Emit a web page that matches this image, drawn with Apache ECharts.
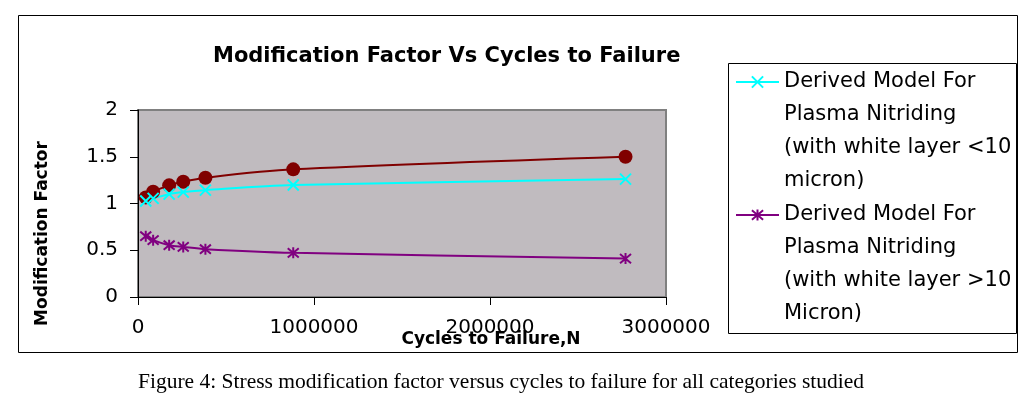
<!DOCTYPE html>
<html>
<head>
<meta charset="utf-8">
<script src="https://cdn.jsdelivr.net/npm/echarts@6/dist/echarts.min.js"></script>
<style>
html,body{margin:0;padding:0;background:#fff;}
#main{width:1033px;height:393px;}
</style>
</head>
<body>
<div id="main"></div>
<script>
// ---- data ----
const cycles = [44000, 86000, 177000, 257000, 383000, 882000, 2770000];
const experimental = [1.065, 1.125, 1.194, 1.233, 1.276, 1.365, 1.50];
const whiteLayerBelow10 = [1.026, 1.055, 1.10, 1.122, 1.143, 1.197, 1.261];
const whiteLayerAbove10 = [0.65, 0.608, 0.554, 0.536, 0.511, 0.472, 0.411];
const xTicks = [0, 1000000, 2000000, 3000000];
const yTicks = [0, 0.5, 1, 1.5, 2];

const nameExp = 'Experimental';
const nameBelow = 'Derived Model For\nPlasma Nitriding\n(with white layer <10\nmicron)';
const nameAbove = 'Derived Model For\nPlasma Nitriding\n(with white layer >10\nMicron)';

function pairs(xs, ys) { return xs.map((x, i) => [x, ys[i]]); }

const chart = echarts.init(document.getElementById('main'), null, {renderer: 'canvas'});
const crossPath = 'path://M0,0L10,10M10,0L0,10';
const starPath = 'path://M0,0L10,10M10,0L0,10M5,-1L5,11';

chart.setOption({
  animation: false,
  backgroundColor: '#ffffff',
  title: [{
    text: 'Modification Factor Vs Cycles to Failure',
    left: 208, top: 41,
    textStyle: {fontFamily: 'DejaVu Sans', fontWeight: 'bold', fontSize: 21, color: '#000'}
  }, {
    text: 'Figure 4: Stress modification factor versus cycles to failure for all categories studied',
    left: 133, top: 366,
    textStyle: {fontFamily: 'Liberation Serif', fontWeight: 'normal', fontSize: 21.5, color: '#000'}
  }],
  graphic: [{
    type: 'rect', z: 0,
    shape: {x: 18.5, y: 15.5, width: 999, height: 337},
    style: {fill: 'none', stroke: '#000', lineWidth: 1}
  }, {
    type: 'rect', z: 0,
    shape: {x: 728.5, y: 63.5, width: 288, height: 270},
    style: {fill: '#fff', stroke: '#000', lineWidth: 1}
  }],
  legend: {
    data: [nameBelow, nameAbove],
    orient: 'vertical',
    left: 735, top: -33.5,
    padding: 0,
    itemWidth: 43, itemHeight: 14,
    itemGap: -98,
    formatter: name => '\n\n\n' + name,
    textStyle: {fontFamily: 'DejaVu Sans', fontSize: 21, color: '#000', lineHeight: 33}
  },
  grid: {
    left: 138, right: 367, top: 110, bottom: 96,
    show: true, backgroundColor: '#C0BBBF', borderColor: '#808080', borderWidth: 2
  },
  xAxis: {
    type: 'value', min: xTicks[0], max: xTicks[xTicks.length - 1], interval: xTicks[1] - xTicks[0],
    name: 'Cycles to Failure,N', nameLocation: 'middle', nameGap: 34, nameMoveOverlap: false,
    nameTextStyle: {fontFamily: 'DejaVu Sans', fontWeight: 'bold', fontSize: 17, color: '#000', padding: [0, 0, 0, 178]},
    axisLine: {show: true, lineStyle: {color: '#000', width: 1}},
    axisTick: {show: true, inside: false, length: 8, lineStyle: {color: '#000'}},
    axisLabel: {margin: 21, fontFamily: 'DejaVu Sans', fontSize: 20, color: '#000', formatter: v => String(v)},
    splitLine: {show: false}
  },
  yAxis: {
    type: 'value', min: yTicks[0], max: yTicks[yTicks.length - 1], interval: yTicks[1] - yTicks[0],
    name: 'Modification Factor', nameLocation: 'middle', nameGap: 87, nameMoveOverlap: false,
    nameTextStyle: {fontFamily: 'DejaVu Sans', fontWeight: 'bold', fontSize: 17, color: '#000', padding: [0, 60, 0, 0]},
    axisLine: {show: true, lineStyle: {color: '#000', width: 1}},
    axisTick: {show: true, inside: false, length: 8, lineStyle: {color: '#000'}},
    axisLabel: {margin: 20, fontFamily: 'DejaVu Sans', fontSize: 20, color: '#000'},
    splitLine: {show: false}
  },
  series: [{
    name: nameExp, type: 'line', smooth: 0.3,
    data: pairs(cycles, experimental),
    symbol: 'circle', symbolSize: 14,
    lineStyle: {color: '#800000', width: 2},
    itemStyle: {color: '#800000'}
  }, {
    name: nameBelow, type: 'line', smooth: 0.3,
    data: pairs(cycles, whiteLayerBelow10),
    symbol: crossPath, symbolSize: 11,
    lineStyle: {color: '#00FFFF', width: 2},
    itemStyle: {color: '#00FFFF', borderColor: '#00FFFF', borderWidth: 2}
  }, {
    name: nameAbove, type: 'line', smooth: 0.3,
    data: pairs(cycles, whiteLayerAbove10),
    symbol: starPath, symbolSize: 11,
    lineStyle: {color: '#800080', width: 2},
    itemStyle: {color: '#800080', borderColor: '#800080', borderWidth: 2}
  }]
});
</script>
</body>
</html>
